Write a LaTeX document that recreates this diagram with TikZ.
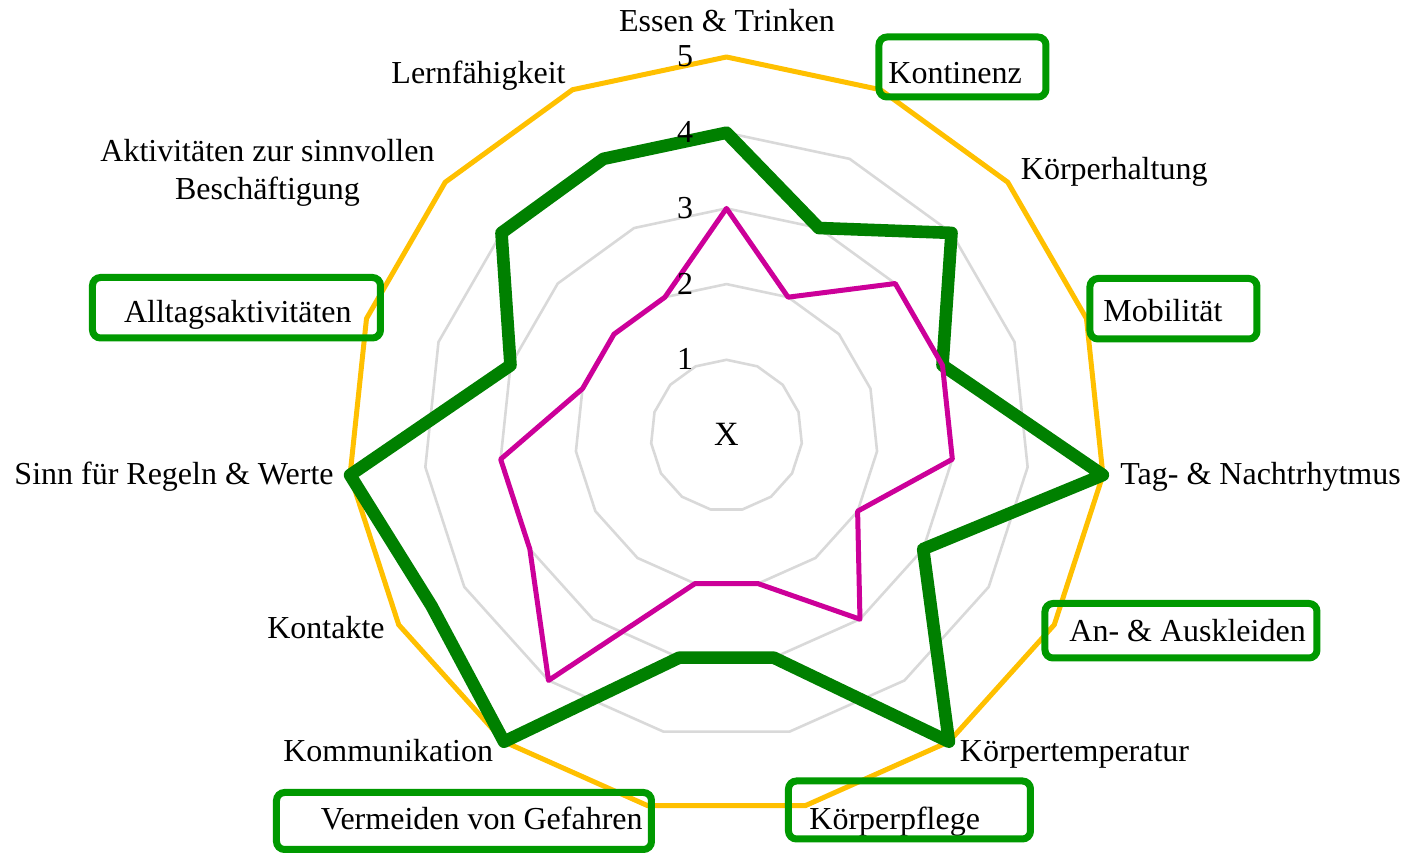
\documentclass[tikz,border=0pt]{standalone}
\usepackage{fontspec}
\setmainfont{Liberation Serif}
\definecolor{chartgold}{HTML}{FFC000}
\definecolor{chartgreen}{HTML}{008000}
\definecolor{chartpink}{HTML}{CC0099}
\definecolor{gridgray}{HTML}{D9D9D9}
\definecolor{markgreen}{HTML}{009900}
\newcommand\ringstep{75.7}

\begin{document}
\begin{tikzpicture}[
x=0.5pt, y=0.5pt,
lbl/.style={font=\fontsize{16}{19}\selectfont, inner sep=0pt},
ring/.style={draw=gridgray, line width=1.3pt},
series/.style={line width=2.5pt, line join=round},
markbox/.style={draw=markgreen, line width=3.5pt, rounded corners=4pt}
]
\useasboundingbox (-726.5,-419.5) rectangle (678.5,435.5);
% grid rings 1..5
\foreach \r in {1,...,5}
  \draw[ring] (90:{\r*\ringstep}) \foreach \i in {1,...,14} { -- ({90-24*\i}:{\r*\ringstep}) } -- cycle;
% series
\draw[series, chartgold] (90:{5*\ringstep}) \foreach \i in {1,...,14} { -- ({90-24*\i}:{5*\ringstep}) } -- cycle;
\draw[series, chartgreen, line width=6.3pt] (90:{4*\ringstep})
  \foreach \v [count=\i] in {3,4,3,5,3,5,3,3,5,4.5,5,3,4,4} { -- ({90-24*\i}:{\v*\ringstep}) } -- cycle;
\draw[series, chartpink] (90:{3*\ringstep})
  \foreach \v [count=\i] in {2,3,3,3,2,3,2,2,4,3,3,2,2,2} { -- ({90-24*\i}:{\v*\ringstep}) } -- cycle;
% scale
\foreach \r in {1,...,5}
  \node[lbl, anchor=base east] (lvl\r) at (-33,{\r*\ringstep-10}) {\r};
\node[lbl, anchor=base, font=\fontsize{17}{19}\selectfont] (mid) at (0,-10) {X};
% axis labels
\node[lbl, anchor=base] (essen) at (0.5,404) {Essen \& Trinken};
\node[lbl, anchor=base west] (kontinenz) at (161.5,352) {Kontinenz};
\node[lbl, anchor=base west] (haltung) at (294,255.5) {Körperhaltung};
\node[lbl, anchor=base west] (mobil) at (376.5,113.5) {Mobilität};
\node[lbl, anchor=base west] (rhythmus) at (393.5,-49.5) {Tag- \& Nachtrhytmus};
\node[lbl, anchor=base west] (kleiden) at (342.5,-206.5) {An- \& Auskleiden};
\node[lbl, anchor=base west] (temp) at (233,-326.5) {Körpertemperatur};
\node[lbl, anchor=base west] (pflege) at (82.5,-394.5) {Körperpflege};
\node[lbl, anchor=base east] (gefahr) at (-83.5,-394.5) {Vermeiden von Gefahren};
\node[lbl, anchor=base east] (kommu) at (-233,-326.5) {Kommunikation};
\node[lbl, anchor=base east] (kontakte) at (-341.5,-203.5) {Kontakte};
\node[lbl, anchor=base east] (regeln) at (-392.5,-49.5) {Sinn für Regeln \& Werte};
\node[lbl, anchor=base east] (alltag) at (-374.5,113) {Alltagsaktivitäten};
\node[lbl, anchor=base, align=center] (beschaeft) at (-459,235.5) {Aktivitäten zur sinnvollen\\Beschäftigung};
\node[lbl, anchor=base east] (lernen) at (-160.5,351.5) {Lernfähigkeit};
% highlight boxes
\draw[markbox] (152.5,398.5) rectangle (319.5,338.5);
\draw[markbox] (363.5,157) rectangle (530.5,96.5);
\draw[markbox] (318.5,-168) rectangle (590.5,-222.5);
\draw[markbox] (62,-345.5) rectangle (304,-403.5);
\draw[markbox] (-450,-357) rectangle (-75,-414);
\draw[markbox] (-634,158) rectangle (-346,97.5);
\end{tikzpicture}
\end{document}
